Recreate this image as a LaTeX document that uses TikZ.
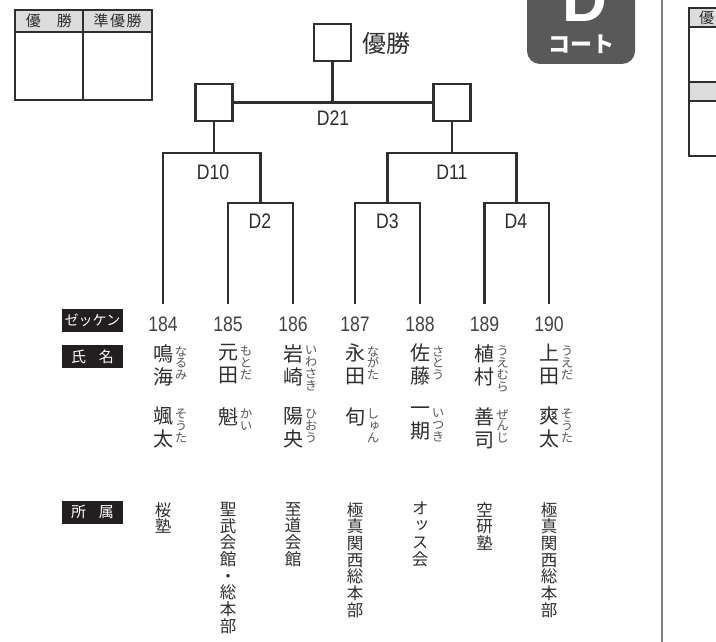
\documentclass[tikz,border=0pt]{standalone}
\usepackage{fontspec}
\setmainfont{Noto Sans CJK JP}
\newfontfamily\jpf{Noto Sans CJK JP}
\newfontfamily\vjpf{Noto Sans CJK JP}[RawFeature=+vert]
\newfontfamily\numfont{Liberation Sans}[FakeStretch=0.84]
\newfontfamily\bigfont{Liberation Sans}
\definecolor{ink}{HTML}{2E2E2E}
\definecolor{badge}{HTML}{595959}
\definecolor{tagbg}{HTML}{231F20}
\definecolor{hdr}{HTML}{DCDCDC}
\begin{document}
\begin{tikzpicture}[x=1pt,y=-1pt,
  bline/.style={draw=ink,line width=2.2pt},
  wbox/.style={draw=ink,line width=2.2pt,minimum size=37pt,inner sep=0pt,fill=white},
  lab/.style={font=\numfont\fontsize{21}{21}\selectfont,text=ink,inner sep=0pt},
  numlab/.style={font=\numfont\fontsize{21}{21}\selectfont,text=ink!90,inner sep=0pt},
  tagbox/.style={fill=tagbg,text=white,minimum width=61pt,minimum height=23pt,inner sep=0pt,font=\jpf\fontsize{14}{14}\selectfont},
  kan/.style={font=\vjpf\fontsize{20}{23}\selectfont,align=center,anchor=north,inner sep=0pt,text=ink},
  furi/.style={font=\vjpf\fontsize{12.5}{11.8}\selectfont,align=center,anchor=north,inner sep=0pt,text=ink!80},
  aff/.style={font=\vjpf\fontsize{16.5}{16.7}\selectfont,align=center,anchor=north,inner sep=0pt,text=ink},
  tbl/.style={draw=ink,line width=1.3pt}
]
\clip (0,0) rectangle (716,642);
\fill[white] (0,0) rectangle (716,642);

% top-left result table
\fill[hdr] (15,10) rectangle (152,32);
\draw[tbl] (15,10) rectangle (152,100);
\draw[tbl] (15,32) -- (152,32);
\draw[tbl] (83,10) -- (83,100);
\node[font=\jpf\fontsize{15}{15}\selectfont,text=ink,inner sep=0pt] (h1) at (49,21) {優\hspace{16pt}勝};
\node[font=\jpf\fontsize{15}{15}\selectfont,text=ink,inner sep=0pt] (h2) at (117.5,21) {準\hspace{1.5pt}優\hspace{1.5pt}勝};

% right partial table
\fill[hdr] (689,8) rectangle (760,27);
\fill[hdr] (689,82) rectangle (760,101);
\draw[tbl] (689,8) rectangle (760,156);
\draw[tbl] (689,27) -- (760,27);
\draw[tbl] (689,82) -- (760,82);
\draw[tbl] (689,101) -- (760,101);
\node[font=\jpf\fontsize{15}{15}\selectfont,text=ink,inner sep=0pt,anchor=west] (h3) at (699,17.5) {優};

% divider
\draw[draw=gray,line width=1.4pt] (662,0) -- (662,642);

% court badge
\fill[badge,rounded corners=13pt] (527,-40) rectangle (635,64);
\node[font=\bigfont\bfseries\fontsize{62}{62}\selectfont,text=white,inner sep=0pt,anchor=base] (dl) at (584.5,22) {D};
\node[font=\jpf\bfseries\fontsize{22}{22}\selectfont,text=white,inner sep=0pt] (ct) at (581.5,44) {コート};

% bracket boxes
\node[wbox] (top) at (332.5,42.5) {};
\node[font=\jpf\fontsize{24}{24}\selectfont,text=ink,inner sep=0pt,anchor=west] (win) at (362,43) {優勝};
\node[wbox] (b10) at (214,102.5) {};
\node[wbox] (b11) at (452,102.5) {};

% coordinates
\coordinate (p1) at (163,304);
\coordinate (p2) at (228,304);
\coordinate (p3) at (293,304);
\coordinate (p4) at (355,304);
\coordinate (p5) at (420,304);
\coordinate (p6) at (484.5,304);
\coordinate (p7) at (549,304);
\coordinate (j2) at (260.5,203);
\coordinate (j3) at (387.5,203);
\coordinate (j4) at (516.5,203);
\coordinate (j10) at (214,153);
\coordinate (j11) at (452,153);
\coordinate (j21) at (332.5,102.5);

% connectors
\draw[bline] (p2) |- (j2) -| (p3);
\draw[bline] (p4) |- (j3) -| (p5);
\draw[bline] (p6) |- (j4) -| (p7);
\draw[bline] (p1) |- (j10) -| (j2);
\draw[bline] (j3) |- (j11) -| (j4);
\draw[bline] (b10.south) -- (j10);
\draw[bline] (b11.south) -- (j11);
\draw[bline] (b10.east) -- (b11.west);
\draw[bline] (top.south) -- (j21);

% match labels
\node[lab] (l21) at (333,118) {D21};
\node[lab] (l10) at (213,172) {D10};
\node[lab] (l11) at (452,172) {D11};
\node[lab] (l2) at (260,221) {D2};
\node[lab] (l3) at (387.5,221) {D3};
\node[lab] (l4) at (516,221) {D4};

% row tags
\node[tagbox] (t1) at (92.5,320.5) {ゼッケン};
\node[tagbox,font=\jpf\fontsize{15}{15}\selectfont] (t2) at (92.5,356.5) {氏\hspace{13pt}名};
\node[tagbox,font=\jpf\fontsize{15}{15}\selectfont] (t3) at (92.5,512) {所\hspace{13pt}属};

% numbers
\node[numlab] (n1) at (163,324.5) {184};
\node[numlab] (n2) at (228,324.5) {185};
\node[numlab] (n3) at (293,324.5) {186};
\node[numlab] (n4) at (355,324.5) {187};
\node[numlab] (n5) at (420,324.5) {188};
\node[numlab] (n6) at (484.5,324.5) {189};
\node[numlab] (n7) at (549,324.5) {190};

% family names
\node[kan] (f1) at (163,344) {鳴\\海};
\node[kan] (f2) at (228,344) {元\\田};
\node[kan] (f3) at (293,344) {岩\\崎};
\node[kan] (f4) at (355,344) {永\\田};
\node[kan] (f5) at (420,344) {佐\\藤};
\node[kan] (f6) at (484.5,344) {植\\村};
\node[kan] (f7) at (549,344) {上\\田};
\node[furi] (r1) at (181,346) {な\\る\\み};
\node[furi] (r2) at (246,346) {も\\と\\だ};
\node[furi] (r3) at (311,346) {い\\わ\\さ\\き};
\node[furi] (r4) at (373,346) {な\\が\\た};
\node[furi] (r5) at (438,346) {さ\\と\\う};
\node[furi] (r6) at (502.5,346) {う\\え\\む\\ら};
\node[furi] (r7) at (567,346) {う\\え\\だ};

% given names
\node[kan] (g1) at (163,407) {颯\\太};
\node[kan] (g2) at (228,407) {魁};
\node[kan] (g3) at (293,407) {陽\\央};
\node[kan] (g4) at (355,407) {旬};
\node[kan] (g5) at (420,407) {一\\期};
\node[kan] (g6) at (484.5,407) {善\\司};
\node[kan] (g7) at (549,407) {爽\\太};
\node[furi] (s1) at (181,409) {そ\\う\\た};
\node[furi] (s2) at (246,409) {か\\い};
\node[furi] (s3) at (311,409) {ひ\\お\\う};
\node[furi] (s4) at (373,409) {し\\ゅ\\ん};
\node[furi] (s5) at (438,409) {い\\つ\\き};
\node[furi] (s6) at (502.5,409) {ぜ\\ん\\じ};
\node[furi] (s7) at (567,409) {そ\\う\\た};

% affiliations
\node[aff] (a1) at (163,502) {桜\\塾};
\node[aff] (a2) at (228,502) {聖\\武\\会\\館\\・\\総\\本\\部};
\node[aff] (a3) at (293,502) {至\\道\\会\\館};
\node[aff] (a4) at (355,502) {極\\真\\関\\西\\総\\本\\部};
\node[aff] (a5) at (420,502) {オ\\ッ\\ス\\会};
\node[aff] (a6) at (484.5,502) {空\\研\\塾};
\node[aff] (a7) at (549,502) {極\\真\\関\\西\\総\\本\\部};
\end{tikzpicture}
\end{document}
